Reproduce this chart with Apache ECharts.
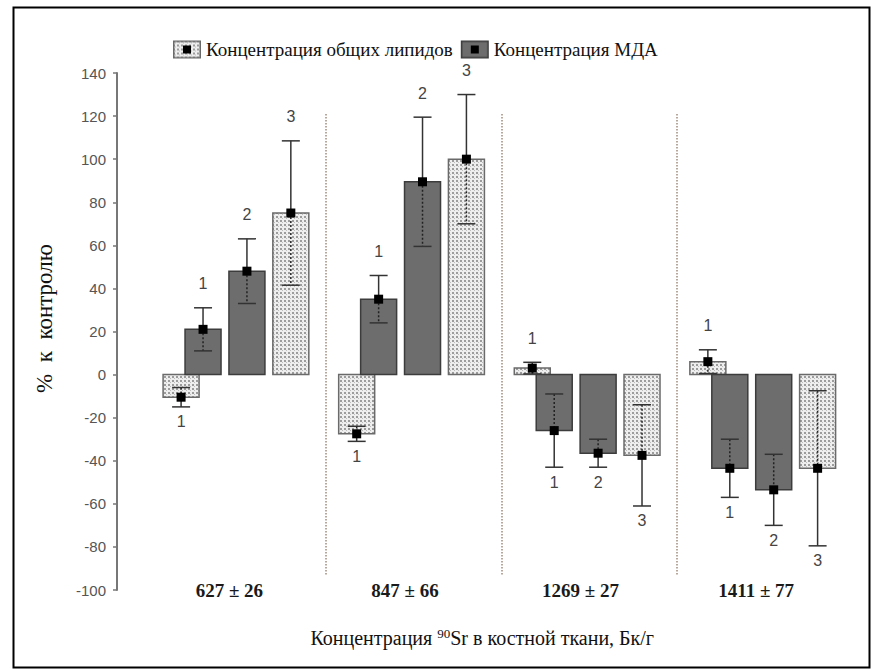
<!DOCTYPE html>
<html>
<head>
<meta charset="utf-8">
<script src="https://cdn.jsdelivr.net/npm/echarts@6/dist/echarts.min.js"></script>
<style>
html,body{margin:0;padding:0;background:#fff;}
#chart{width:876px;height:669px;}
</style>
</head>
<body>
<div id="chart"></div>
<script>
// ---------------- DATA ----------------
const categories = ['627 ± 26', '847 ± 66', '1269 ± 27', '1411 ± 77'];
const barNumbers = ['1', '1', '2', '3'];           // labels of the four bars of a group
const lipids1    = [-10.5, -27.5, 3, 6];           // общие липиды, bar "1"
const lipids1Err = [4.5, 3.5, 2.7, 5.5];
const mda1       = [21, 35, -26, -43.5];           // МДА, bar "1"
const mda1Err    = [10, 11, 17, 13.5];
const mda2       = [48, 89.5, -36.5, -53.5];       // МДА, bar "2"
const mda2Err    = [15, 30, 6.5, 16.5];
const lipids3    = [75, 100, -37.5, -43.5];        // общие липиды, bar "3"
const lipids3Err = [33.5, 30, 23.5, 36];
const yMin = -100, yMax = 140, yStep = 20;
const seriesNames = ['Концентрация общих липидов', 'Концентрация МДА'];

// ---------------- LAYOUT ----------------
const GROUP_STEP = 4;
const BAR_OFFSET = [-0.5, 0, 1, 2];
const BAR_W = 0.82;
const LABEL_OFFSET = 0.6;
const SEP_OFFSET = -1.2;

function buildData(values, errs, barIdx) {
  return values.map((v, i) => [i * GROUP_STEP + BAR_OFFSET[barIdx], v, errs[i], barIdx]);
}

// pattern tile for dotted bars
function makeTile() {
  const c = document.createElement('canvas');
  c.width = 4; c.height = 4;
  const g = c.getContext('2d');
  g.fillStyle = '#eeeeee'; g.fillRect(0, 0, 4, 4);
  g.fillStyle = '#9c9c9c'; g.fillRect(0, 0, 2, 2);
  g.fillStyle = '#bdbdbd'; g.fillRect(2, 2, 1, 1);
  return c;
}
const tile = makeTile();
const dottedFill = { image: tile, repeat: 'repeat' };
const darkFill = '#6d6d6d';

function makeIcon(dotted) {
  const c = document.createElement('canvas');
  c.width = 28; c.height = 18;
  const g = c.getContext('2d');
  g.fillStyle = dotted ? g.createPattern(tile, 'repeat') : darkFill;
  g.fillRect(0, 0, 28, 18);
  g.strokeStyle = dotted ? '#6a6a6a' : '#3c3c3c';
  g.lineWidth = 1.5;
  g.strokeRect(0.75, 0.75, 26.5, 16.5);
  g.fillStyle = '#000';
  g.fillRect(10, 5, 8, 8);
  return 'image://' + c.toDataURL();
}

function renderBar(dotted) {
  return function (params, api) {
    const x = api.value(0), v = api.value(1), e = api.value(2), idx = api.value(3);
    const base = api.coord([x, 0]);
    const top = api.coord([x, v]);
    const hi = api.coord([x, v + e]);
    const lo = api.coord([x, v - e]);
    const w = api.size([BAR_W, 0])[0];
    const cx = base[0];
    const by0 = Math.min(base[1], top[1]), by1 = Math.max(base[1], top[1]);
    const children = [];
    children.push({
      type: 'rect',
      shape: { x: cx - w / 2, y: by0, width: w, height: Math.max(by1 - by0, 1) },
      style: { fill: dotted ? dottedFill : darkFill, stroke: dotted ? '#6a6a6a' : '#3c3c3c', lineWidth: 1.5 }
    });
    const wy0 = hi[1], wy1 = lo[1];
    const iy0 = Math.max(wy0, by0), iy1 = Math.min(wy1, by1);
    const lineStyle = { stroke: '#333', lineWidth: 1.5 };
    if (iy1 > iy0) {
      if (wy0 < iy0) children.push({ type: 'line', shape: { x1: cx, y1: wy0, x2: cx, y2: iy0 }, style: lineStyle });
      if (wy1 > iy1) children.push({ type: 'line', shape: { x1: cx, y1: iy1, x2: cx, y2: wy1 }, style: lineStyle });
      children.push({ type: 'line', shape: { x1: cx, y1: iy0, x2: cx, y2: iy1 }, style: { stroke: '#222', lineWidth: 1.5, lineDash: [2, 2] } });
    } else {
      children.push({ type: 'line', shape: { x1: cx, y1: wy0, x2: cx, y2: wy1 }, style: lineStyle });
    }
    children.push({ type: 'line', shape: { x1: cx - 9, y1: wy0, x2: cx + 9, y2: wy0 }, style: lineStyle });
    children.push({ type: 'line', shape: { x1: cx - 9, y1: wy1, x2: cx + 9, y2: wy1 }, style: lineStyle });
    children.push({ type: 'rect', shape: { x: cx - 4.5, y: top[1] - 4.5, width: 9, height: 9 }, style: { fill: '#000' } });
    children.push({
      type: 'text',
      style: {
        text: barNumbers[idx],
        x: cx, y: v >= 0 ? wy0 - 24 : wy1 + 15,
        align: 'center', verticalAlign: 'middle',
        font: '16px "Liberation Sans", Arial, sans-serif',
        fill: '#444'
      }
    });
    return { type: 'group', children: children };
  };
}

const sepData = [1, 2, 3].map(i => [
  { coord: [i * GROUP_STEP + SEP_OFFSET, 121] },
  { coord: [i * GROUP_STEP + SEP_OFFSET, -93.5] }
]);

const serif = '"Liberation Serif", "Times New Roman", serif';

const chart = echarts.init(document.getElementById('chart'), null, { renderer: 'svg' });
chart.setOption({
  backgroundColor: '#ffffff',
  animation: false,
  graphic: [{
    type: 'rect', left: 11, top: 5, shape: { width: 856, height: 660 },
    style: { fill: 'none', stroke: '#000', lineWidth: 2 }, silent: true, z: 100
  }],
  legend: {
    left: 168, top: 35,
    itemWidth: 28, itemHeight: 18, itemGap: 8,
    textStyle: { fontFamily: serif, fontSize: 19, color: '#111' },
    data: [
      { name: seriesNames[0], icon: makeIcon(true) },
      { name: seriesNames[1], icon: makeIcon(false) }
    ]
  },
  grid: { left: 117, right: 14.5, top: 73, bottom: 79, containLabel: false },
  xAxis: {
    type: 'value',
    min: -1.96, max: 15,
    axisLine: { show: false },
    axisTick: { show: false },
    splitLine: { show: false },
    axisLabel: {
      customValues: categories.map((c, i) => i * GROUP_STEP + LABEL_OFFSET),
      formatter: function (val) { return categories[Math.round((val - LABEL_OFFSET) / GROUP_STEP)] || ''; },
      margin: 0, verticalAlign: 'middle',
      fontFamily: serif, fontSize: 19, fontWeight: 'bold', color: '#1a1a1a'
    },
    name: 'Концентрация {sup|90}Sr в костной ткани, Бк/г',
    nameLocation: 'middle', nameGap: 37,
    nameTextStyle: {
      fontFamily: serif, fontSize: 20, color: '#111', padding: [0, 14, 0, 0],
      rich: { sup: { fontFamily: serif, fontSize: 13, color: '#111', verticalAlign: 'bottom', padding: [0, 0, 9, 0] } }
    }
  },
  yAxis: {
    type: 'value', min: yMin, max: yMax, interval: yStep,
    axisLine: { show: true, onZero: false, lineStyle: { color: '#777', width: 2 } },
    axisTick: { show: true, length: 4, lineStyle: { color: '#777', width: 1.5 } },
    splitLine: { show: false },
    axisLabel: { fontFamily: '"Liberation Sans", Arial, sans-serif', fontSize: 15, color: '#555', margin: 11 },
    name: '%  к  контролю',
    nameLocation: 'middle', nameGap: 61,
    nameTextStyle: { fontFamily: serif, fontSize: 23, color: '#111', padding: [0, 0, 0, 26] }
  },
  series: [
    {
      name: seriesNames[0], type: 'custom',
      renderItem: renderBar(true),
      itemStyle: { color: '#dcdcdc' },
      encode: { x: 0, y: 1 },
      data: buildData(lipids1, lipids1Err, 0).concat(buildData(lipids3, lipids3Err, 3)),
      markLine: {
        silent: true, symbol: 'none', label: { show: false },
        lineStyle: { type: 'dotted', color: '#a08a7c', width: 1.5 },
        data: sepData
      },
      z: 2
    },
    {
      name: seriesNames[1], type: 'custom',
      renderItem: renderBar(false),
      itemStyle: { color: darkFill },
      encode: { x: 0, y: 1 },
      data: buildData(mda1, mda1Err, 1).concat(buildData(mda2, mda2Err, 2)),
      z: 3
    }
  ]
});
</script>
</body>
</html>
